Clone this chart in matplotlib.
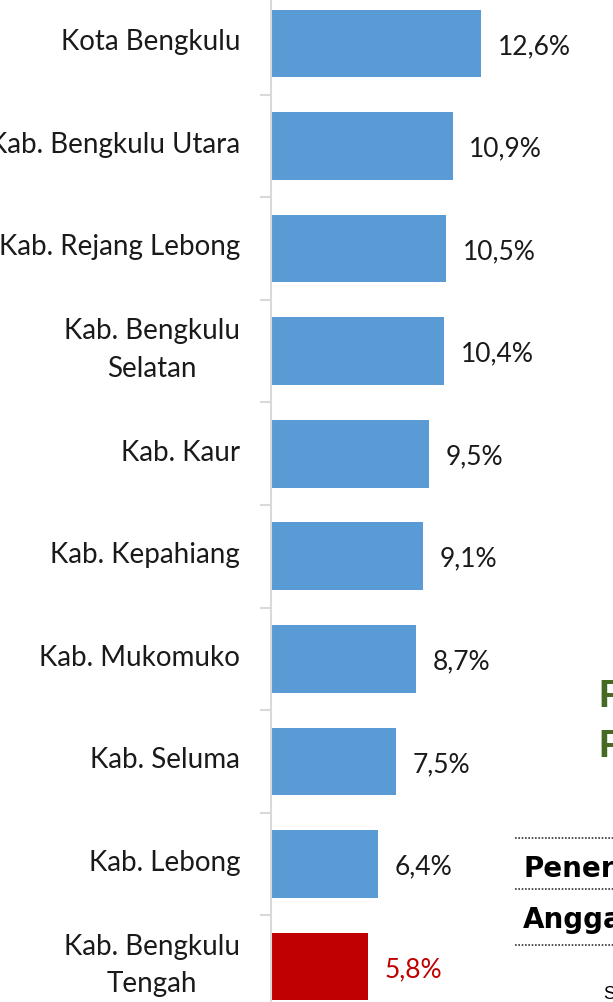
import matplotlib.pyplot as plt
from matplotlib.lines import Line2D

regions = ['Kota Bengkulu', 'Kab. Bengkulu Utara', 'Kab. Rejang Lebong',
           'Kab. Bengkulu\nSelatan', 'Kab. Kaur', 'Kab. Kepahiang',
           'Kab. Mukomuko', 'Kab. Seluma', 'Kab. Lebong',
           'Kab. Bengkulu\nTengah']
values = [12.6, 10.9, 10.5, 10.4, 9.5, 9.1, 8.7, 7.5, 6.4, 5.8]
highlight = 'Kab. Bengkulu\nTengah'

BLUE = '#5B9BD5'
RED = '#C00000'
FONT = ['Lato', 'DejaVu Sans']

plt.rcParams['font.family'] = FONT

fig = plt.figure(figsize=(6.13, 10.03), dpi=100)
# axes runs past the top and bottom edge, the reference is a crop
ax = fig.add_axes([271 / 613, -0.0157, 0.72, 1.0225])

colors = [RED if r == highlight else BLUE for r in regions]
ypos = list(range(len(regions)))
ax.barh(ypos, values, height=0.66, color=colors)
ax.set_ylim(len(regions) - 0.5, -0.5)
ax.set_xlim(0, 0.72 * 613 / (210 / 12.6))

for y, v, c in zip(ypos, values, colors):
    txt = '{:.1f}%'.format(v).replace('.', ',')
    ax.text(v + 1.0, y + 0.02, txt, va='center', ha='left', fontsize=19,
            color=RED if c == RED else '#1a1a1a')

# category labels, drawn as annotations so they can sit a bit higher
for y, r in zip(ypos, regions):
    ax.annotate(r, xy=(0, y), xytext=(-22.3, 1.5), textcoords='offset points',
                ha='right', va='center', multialignment='center',
                fontsize=20, linespacing=1.55, color='#1a1a1a')

ax.set_yticks([i + 0.5 for i in range(-1, len(regions))])
ax.set_yticklabels([])
ax.tick_params(axis='y', length=8, width=1.5, color='#d9d9d9')
ax.set_xticks([])
for s in ['top', 'right', 'bottom']:
    ax.spines[s].set_visible(False)
ax.spines['left'].set_color('#d9d9d9')
ax.spines['left'].set_linewidth(1.5)

# pieces of the neighbouring slide that show at the right edge
green = '#446a23'
fig.text(598 / 613, 1 - 697 / 1003, 'P', color=green, fontsize=28,
         fontweight='bold', va='center', family=['Liberation Sans'])
fig.text(598 / 613, 1 - 747 / 1003, 'F', color=green, fontsize=28,
         fontweight='bold', va='center', family=['Liberation Sans'])
fig.text(523 / 613, 1 - 877 / 1003, 'Penerimaan', fontsize=20,
         fontweight='bold', va='baseline', family=['DejaVu Sans'])
fig.text(523 / 613, 1 - 928 / 1003, 'Anggaran', fontsize=20,
         fontweight='bold', va='baseline', family=['DejaVu Sans'])
fig.text(603 / 613, 1 - 995 / 1003, 'S', fontsize=13, va='center',
         family=['Liberation Sans'])
for yy in [839, 890, 946]:
    fig.add_artist(Line2D([515 / 613, 1.0], [1 - yy / 1003] * 2,
                          transform=fig.transFigure, color='#333333',
                          lw=1.2, linestyle=(0, (1, 1))))

fig.savefig('out.png', dpi=100)
